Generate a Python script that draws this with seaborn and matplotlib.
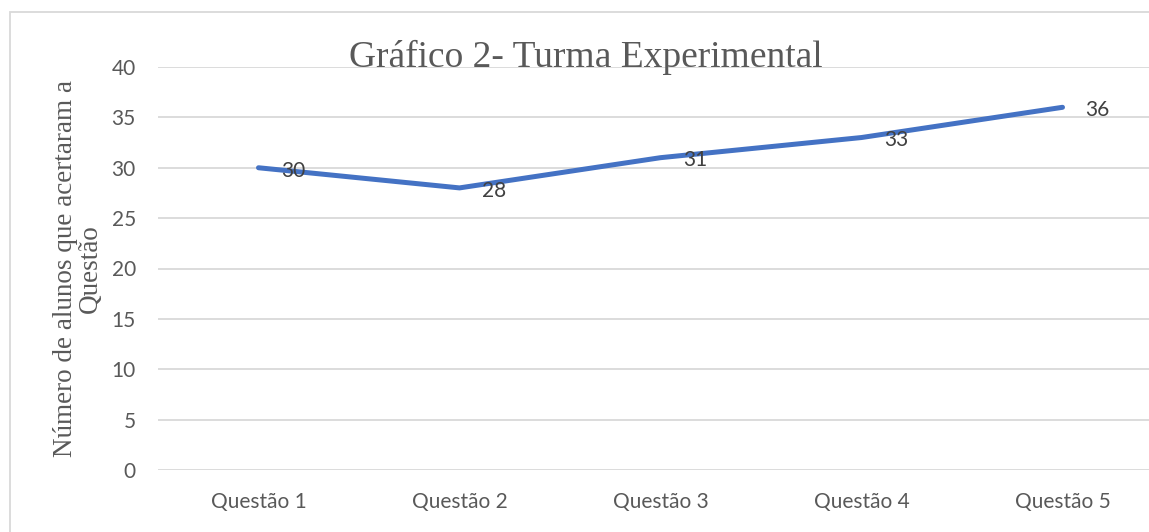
import pandas as pd
import seaborn as sns
import matplotlib.pyplot as plt
from matplotlib.patches import Rectangle

questoes = ["Questão 1", "Questão 2", "Questão 3", "Questão 4", "Questão 5"]
acertos = [30, 28, 31, 33, 36]
y_ticks = [0, 5, 10, 15, 20, 25, 30, 35, 40]

df = pd.DataFrame({"Questao": questoes, "Acertos": acertos})

sns.set_style("white")
plt.rcParams['font.family'] = ['Lato', 'DejaVu Sans']

fig = plt.figure(figsize=(11.49, 5.32), dpi=100)
# plot area runs a bit past the right edge, as in the cropped original
ax = fig.add_axes([158 / 1149, 62 / 532, (1163 - 158) / 1149, 403 / 532])

sns.lineplot(data=df, x="Questao", y="Acertos", ax=ax, color="#4472C4",
             linewidth=3.6, sort=False, solid_capstyle="round")

for i, v in enumerate(acertos):
    ax.annotate(str(v), (i, v), xytext=(16, -2), textcoords="offset points",
                ha="left", va="center", fontsize=15, color="#404040")

ax.set_xlim(-0.5, 4.5)
ax.set_ylim(0, 40)
ax.set_yticks(y_ticks)
ax.yaxis.grid(True, color="#d9d9d9", linewidth=1.3)
ax.xaxis.grid(False)
for s in ax.spines.values():
    s.set_visible(False)
ax.tick_params(axis="both", length=0, labelsize=15, labelcolor="#595959")
ax.tick_params(axis="y", pad=16)
ax.tick_params(axis="x", pad=16)
ax.set_xlabel("")
ax.set_ylabel("Número de alunos que acertaram a\nQuestão", family="Liberation Serif",
              fontsize=19.5, color="#595959", labelpad=6, linespacing=1.0)

fig.text(586 / 1149, 1 - 57 / 532, "Gráfico 2- Turma Experimental", family="Liberation Serif",
         fontsize=27, color="#595959", ha="center", va="center")

fig.patches.append(Rectangle((10 / 1149, -0.1), 1.2, (532 - 12) / 532 + 0.1,
                             transform=fig.transFigure, fill=False,
                             edgecolor="#d9d9d9", linewidth=1.3))

fig.savefig("out.png", dpi=100)
